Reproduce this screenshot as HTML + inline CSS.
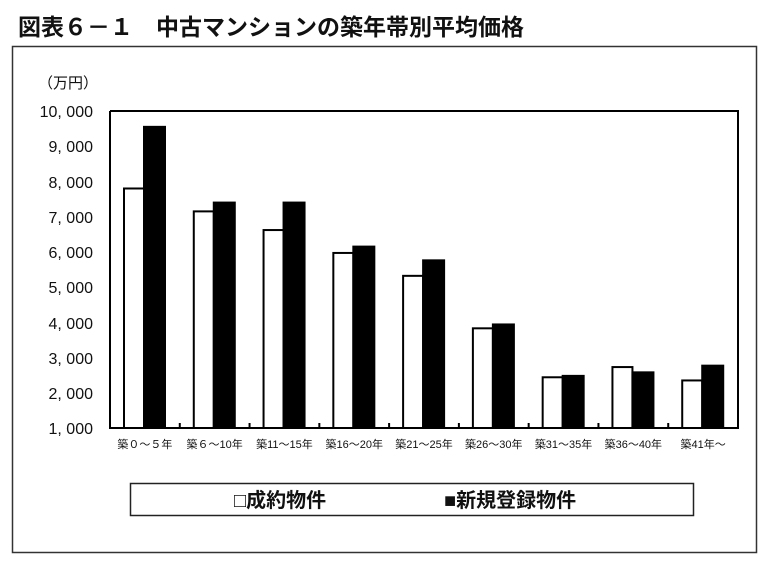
<!DOCTYPE html>
<html><head><meta charset="utf-8"><style>
body{margin:0;background:#fff;width:768px;height:567px;overflow:hidden;font-family:"Liberation Sans","Noto Sans CJK JP",sans-serif}
</style></head><body>
<svg width="768" height="567" xmlns="http://www.w3.org/2000/svg" font-family="'Liberation Sans','Noto Sans CJK JP',sans-serif">
<text x="18" y="35" font-size="23" font-weight="bold" fill="#111">図表６－１　中古マンションの築年帯別平均価格</text>
<rect x="12.5" y="46.5" width="744" height="506" fill="none" stroke="#333" stroke-width="1.5"/>
<text x="38" y="88" font-size="15" fill="#111">（万円）</text>
<g font-size="16" fill="#111" text-anchor="end">
<text x="93" y="117">10, 000</text><text x="93" y="152">9, 000</text><text x="93" y="188">8, 000</text>
<text x="93" y="223">7, 000</text><text x="93" y="258">6, 000</text><text x="93" y="293">5, 000</text>
<text x="93" y="329">4, 000</text><text x="93" y="364">3, 000</text><text x="93" y="399">2, 000</text>
<text x="93" y="434">1, 000</text>
</g>
<polyline points="110,111 738,111 738,428 110,428 110,111" fill="none" stroke="#000" stroke-width="2"/>
<g id="bars" stroke="#000" stroke-width="2"></g>
<g font-size="11" fill="#111" text-anchor="middle" id="cats"></g>
<rect x="130.5" y="483.5" width="563" height="32" fill="#fff" stroke="#222" stroke-width="1.5"/>
<text x="234" y="507" font-size="20" font-weight="bold" fill="#111">□成約物件</text>
<text x="444" y="507" font-size="20" font-weight="bold" fill="#111">■新規登録物件</text>
</svg>
<script>
var v=[[7800,9550],[7150,7400],[6620,7400],[5970,6150],[5320,5760],[3830,3940],[2440,2480],[2730,2580],[2350,2770]];
var c=["築０～５年","築６～10年","築11～15年","築16～20年","築21～25年","築26～30年","築31～35年","築36～40年","築41年～"];
var g=document.getElementById('bars'),t=document.getElementById('cats'),w=628/9,s="";
function y(val){return 428-(val-1000)*317/9000;}
for(var i=0;i<9;i++){var x=110+i*w;
s+='<rect x="'+(x+14)+'" y="'+y(v[i][0])+'" width="20" height="'+(428-y(v[i][0]))+'" fill="#fff"/>';
s+='<rect x="'+(x+34)+'" y="'+y(v[i][1])+'" width="21" height="'+(428-y(v[i][1]))+'" fill="#000"/>';
if(i>0)s+='<line x1="'+x+'" y1="428" x2="'+x+'" y2="423"/>';
t.innerHTML+='<text x="'+(x+w/2)+'" y="448">'+c[i]+'</text>';}
g.innerHTML=s;
</script>
</body></html>
